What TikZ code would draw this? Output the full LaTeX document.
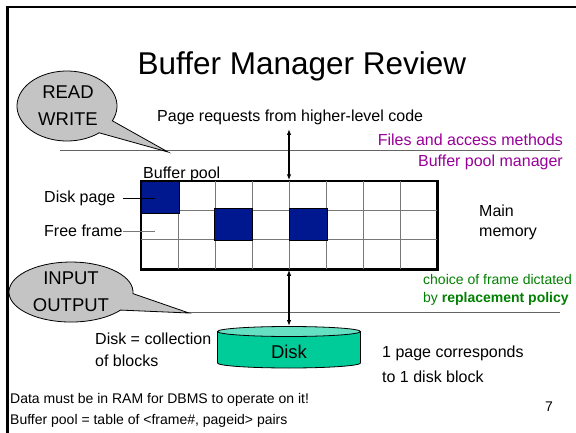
\documentclass[tikz,border=0pt]{standalone}
\usepackage{fontspec}
\setmainfont{Liberation Sans}
\usetikzlibrary{arrows.meta}
\definecolor{labelpurple}{RGB}{153,0,153}
\definecolor{policygreen}{RGB}{0,128,0}
\definecolor{cellblue}{RGB}{0,24,143}
\definecolor{diskbody}{RGB}{0,204,153}
\definecolor{disktopfill}{RGB}{102,224,194}
\definecolor{calloutgray}{RGB}{196,196,196}
\definecolor{rulegray}{RGB}{100,100,100}
\definecolor{gridgray}{RGB}{120,120,120}
\begin{document}
\begin{tikzpicture}[x=1pt,y=1pt,
  txt/.style={inner sep=0pt, font=\fontsize{16}{19}\selectfont},
  small/.style={inner sep=0pt, font=\fontsize{14}{17}\selectfont},
  big/.style={inner sep=0pt, font=\fontsize{18.5}{27}\selectfont},
  callout/.style={fill=calloutgray, draw=black, line width=0.8pt},
  dblarrow/.style={line width=1.1pt, {Latex[length=6pt,width=4.5pt]}-{Latex[length=6pt,width=4.5pt]}},
  rulestyle/.style={draw=rulegray, line width=1pt},
  cellstyle/.style={fill=cellblue, draw=black, line width=1pt}]
\useasboundingbox (0,0) rectangle (576,432);
\fill[white] (0,0) rectangle (576,432);
% slide frame
\draw[line width=2.5pt, line join=miter] (7.5,-3) -- (7.5,425) -- (580,425);
% title
\node[anchor=base, inner sep=0pt, font=\fontsize{31.5}{36}\selectfont] (title) at (302,357) {Buffer Manager Review};
% rules
\coordinate (ruleAL) at (60,281.3);
\coordinate (ruleAR) at (560,281.3);
\draw[rulestyle] (ruleAL) -- (ruleAR);
\coordinate (ruleBL) at (186,120);
\coordinate (ruleBR) at (560,120);
\draw[rulestyle] (ruleBL) -- (ruleBR);
% buffer pool grid
\node[draw=black, line width=1.5pt, fill=white, minimum width=296pt, minimum height=88pt, inner sep=0pt] (pool) at (289,207) {};
\foreach \i in {1,...,7} {
  \draw[gridgray, line width=0.9pt] (141+37*\i,163) -- (141+37*\i,251);
}
\draw[gridgray, line width=0.9pt] (141,192.33) -- (437,192.33);
\draw[gridgray, line width=0.9pt] (141,221.67) -- (437,221.67);
\draw[cellstyle] (141,219) rectangle (179,251);
\draw[cellstyle] (214,192) rectangle (252,224);
\draw[cellstyle] (289,192) rectangle (327,224);
\draw[line width=1.5pt] (pool.south west) rectangle (pool.north east);
% labels around the pool
\node[txt, anchor=west] (bufpool) at (143,258) {Buffer pool};
\node[txt, anchor=west] (diskpage) at (44,234) {Disk page};
\node[txt, anchor=west] (freeframe) at (44,201) {Free frame};
\coordinate (dpend) at (155,234);
\coordinate (ffend) at (155,201);
\draw[black, line width=0.8pt, shorten <=7pt] (diskpage.east) -- (dpend);
\draw[gridgray, line width=0.9pt] (freeframe.east) -- (ffend);
\node[txt, anchor=west] (main) at (479,221) {Main};
\node[txt, anchor=west] (memory) at (479,198) {memory};
% top texts
\node[txt, anchor=west] (req) at (157,315) {Page requests from higher-level code};
\node[txt, anchor=east, text=labelpurple] (files) at (563,292) {Files and access methods};
\node[txt, anchor=east, text=labelpurple] (bpm) at (563,270) {Buffer pool manager};
\coordinate (reqtip) at (289,303);
\draw[dblarrow] (reqtip) -- (pool.north);
% policy text
\node[small, anchor=west, text=policygreen] (choice) at (423,153) {choice of frame dictated};
\node[small, anchor=west, text=policygreen] (policy) at (423,133) {by \textbf{replacement policy}};
% disk
\fill[diskbody] (217.5,69) -- (217.5,100.5) -- (360.5,100.5) -- (360.5,69)
  arc[start angle=0, end angle=-180, x radius=71.5, y radius=5] -- cycle;
\draw[line width=0.8pt] (217.5,100.5) -- (217.5,69)
  arc[start angle=180, end angle=360, x radius=71.5, y radius=5] -- (360.5,100.5);
\draw[fill=disktopfill, line width=0.8pt] (289,100.5) ellipse[x radius=71.5, y radius=5];
\node[big] (disk) at (289,80) {Disk};
\coordinate (disktop) at (289,106);
\draw[dblarrow] (pool.south) -- (disktop);
\node[txt, anchor=west] (diskcoll) at (95,93) {Disk = collection};
\node[txt, anchor=west] (ofblocks) at (95,71) {of blocks};
\node[txt, anchor=west] (onepage) at (382,79) {1 page corresponds};
\node[txt, anchor=west] (toone) at (382,55) {to 1 disk block};
% footer
\node[small, anchor=west] (footA) at (10,32) {Data must be in RAM for DBMS to operate on it!};
\node[small, anchor=west] (footB) at (10,11) {Buffer pool = table of <frame\#, pageid> pairs};
\node[small] (pagenum) at (549,25) {7};
% callouts
\draw[callout] (112.32,311.21) arc[start angle=-25, end angle=310, x radius=50, y radius=35] -- (168,280) -- cycle;
\node[big, align=center] (rw) at (68,326.5) {READ\\WRITE};
\draw[callout] (132.9,138.4) arc[start angle=-3, end angle=323, x radius=62, y radius=30] -- (189,119) -- cycle;
\node[big, align=center] (io) at (71,140.5) {INPUT\\OUTPUT};
\end{tikzpicture}
\end{document}
